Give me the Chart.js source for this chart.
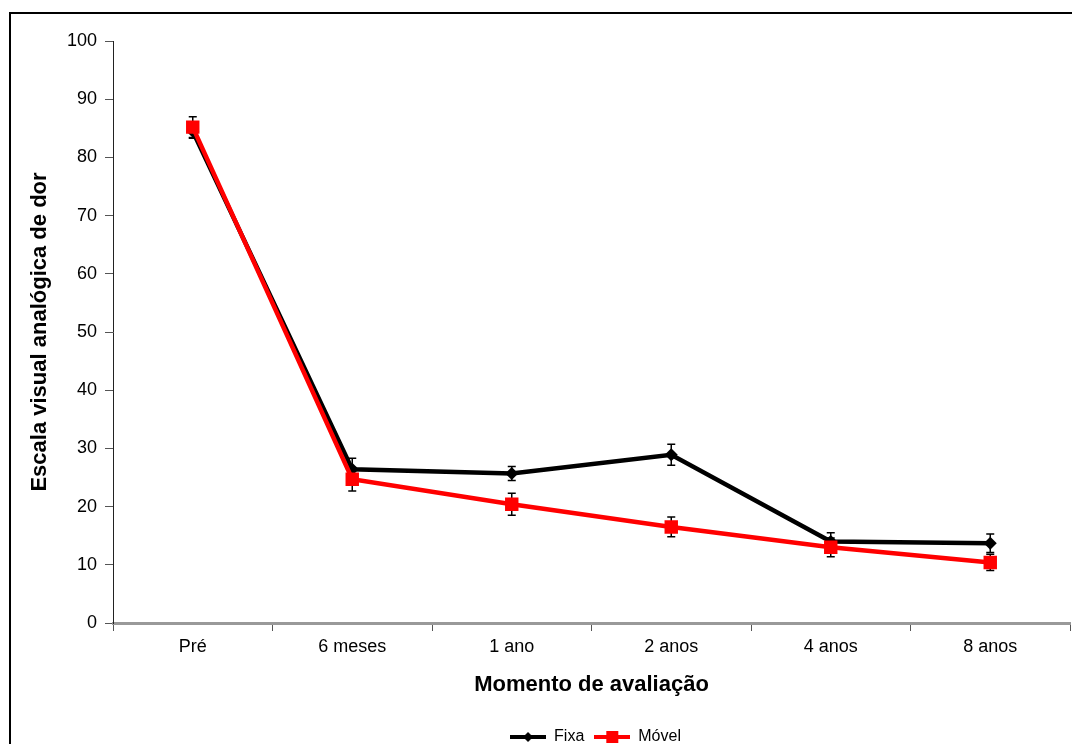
<!DOCTYPE html>
<html lang="pt">
<head>
<meta charset="UTF-8">
<title>Escala visual analógica de dor</title>
<script src="https://cdn.jsdelivr.net/npm/chart.js"></script>
<style>
  body { margin: 0; background: #fff; }
</style>
<script>
    const labels = ['Pré', '6 meses', '1 ano', '2 anos', '4 anos', '8 anos'];
    const fixa = [84.5, 26.4, 25.7, 28.9, 14.0, 13.7];
    const fixaErr = [1.2, 1.9, 1.2, 1.8, 1.5, 1.6];
    const movel = [85.2, 24.7, 20.4, 16.5, 13.0, 10.4];
    const movelErr = [1.8, 2.0, 1.9, 1.7, 1.6, 1.4];
    const yTicks = [0, 10, 20, 30, 40, 50, 60, 70, 80, 90, 100];

    // simbolo da legenda: linha com marcador
    function legendIcon(color, shape) {
      const c = document.createElement('canvas');
      c.width = 36; c.height = 16;
      const g = c.getContext('2d');
      g.strokeStyle = color; g.lineWidth = 4;
      g.beginPath(); g.moveTo(0, 8); g.lineTo(36, 8); g.stroke();
      g.fillStyle = color;
      if (shape === 'diamond') {
        g.beginPath(); g.moveTo(18, 3); g.lineTo(23, 8); g.lineTo(18, 13); g.lineTo(13, 8); g.closePath(); g.fill();
      } else {
        g.fillRect(12, 2, 12, 12);
      }
      return c;
    }

    const errorBars = {
      id: 'errorBars',
      beforeDatasetsDraw(chart) {
        const ctx = chart.ctx;
        const y = chart.scales.y;
        const errs = [fixaErr, movelErr];
        ctx.save();
        ctx.strokeStyle = '#000';
        ctx.lineWidth = 1.5;
        chart.data.datasets.forEach((ds, d) => {
          const meta = chart.getDatasetMeta(d);
          meta.data.forEach((pt, i) => {
            const top = y.getPixelForValue(ds.data[i] + errs[d][i]);
            const bot = y.getPixelForValue(ds.data[i] - errs[d][i]);
            ctx.beginPath();
            ctx.moveTo(pt.x, top); ctx.lineTo(pt.x, bot);
            ctx.moveTo(pt.x - 4, top); ctx.lineTo(pt.x + 4, top);
            ctx.moveTo(pt.x - 4, bot); ctx.lineTo(pt.x + 4, bot);
            ctx.stroke();
          });
        });
        ctx.restore();
      }
    };

    // legenda centrada na área do gráfico, um pouco mais abaixo
    const legendPlace = {
      id: 'legendPlace',
      afterLayout(chart) {
        const lg = chart.legend;
        lg.left = chart.chartArea.left + 4;
        lg.right = chart.chartArea.right + 4;
        lg.width = lg.right - lg.left;
        lg.top += 11;
        lg.bottom += 11;
      }
    };

    const frame = {
      id: 'frame',
      afterDraw(chart) {
        const ctx = chart.ctx;
        ctx.save();
        ctx.strokeStyle = '#000';
        ctx.lineWidth = 2;
        ctx.strokeRect(10, 13, 1200, 1000);
        ctx.restore();
      }
    };

    window.addEventListener("load", () => {
      Chart.defaults.font.family = "'Liberation Sans', Arial, sans-serif";
      Chart.defaults.color = '#000';

      const data = {
        labels: labels,
        datasets: [{
          label: 'Fixa',
          data: fixa,
          borderColor: '#000',
          backgroundColor: '#000',
          borderWidth: 4.5,
          pointStyle: 'rectRot',
          pointRadius: 6.5,
          pointHoverRadius: 6.5,
          pointBorderWidth: 0,
          tension: 0,
          order: 1
        }, {
          label: 'Móvel',
          data: movel,
          borderColor: '#ff0000',
          backgroundColor: '#ff0000',
          borderWidth: 4.5,
          pointStyle: 'rect',
          pointRadius: 9.5,
          pointHoverRadius: 9.5,
          pointBorderWidth: 0,
          tension: 0,
          order: 0
        }]
      };

      const config = {
        type: 'line',
        data: data,
        plugins: [errorBars, legendPlace, frame],
        options: {
          responsive: false,
          animation: false,
          layout: { autoPadding: false, padding: { top: 41, right: 2, left: 0, bottom: 0 } },
          plugins: {
            tooltip: { enabled: false },
            legend: {
              position: 'bottom',
              labels: {
                usePointStyle: true,
                pointStyleWidth: 36,
                padding: 10,
                font: { size: 16 },
                generateLabels: () => [
                  { text: 'Fixa', pointStyle: legendIcon('#000', 'diamond'), fillStyle: '#000', strokeStyle: '#000', lineWidth: 0, datasetIndex: 0 },
                  { text: 'Móvel', pointStyle: legendIcon('#ff0000', 'square'), fillStyle: '#ff0000', strokeStyle: '#ff0000', lineWidth: 0, datasetIndex: 1 }
                ]
              }
            }
          },
          scales: {
            x: {
              offset: true,
              grid: { display: true, drawOnChartArea: false, offset: true, tickLength: 8, color: '#555' },
              border: { color: '#999', width: 3 },
              ticks: { font: { size: 18 }, padding: 5, maxRotation: 0 },
              title: { display: true, text: 'Momento de avaliação', font: { size: 22, weight: 'bold' }, padding: { top: 4, bottom: 10 } },
              afterFit: s => { s.height = 85; }
            },
            y: {
              min: 0,
              max: 100,
              afterBuildTicks: s => { s.ticks = yTicks.map(v => ({ value: v })); },
              grid: { display: true, drawOnChartArea: false, tickLength: 8, color: '#555' },
              border: { color: '#222', width: 1 },
              ticks: { font: { size: 18 }, padding: 8 },
              title: { display: true, text: 'Escala visual analógica de dor', font: { size: 22, weight: 'bold' }, padding: { top: 27, bottom: 0 } },
              afterFit: s => { s.width = 113; }
            }
          }
        }
      };

      new Chart(document.getElementById('myChart'), config);
    });
</script>
</head>
<body>
  <canvas id="myChart" width="1072" height="744"></canvas>
</body>
</html>
